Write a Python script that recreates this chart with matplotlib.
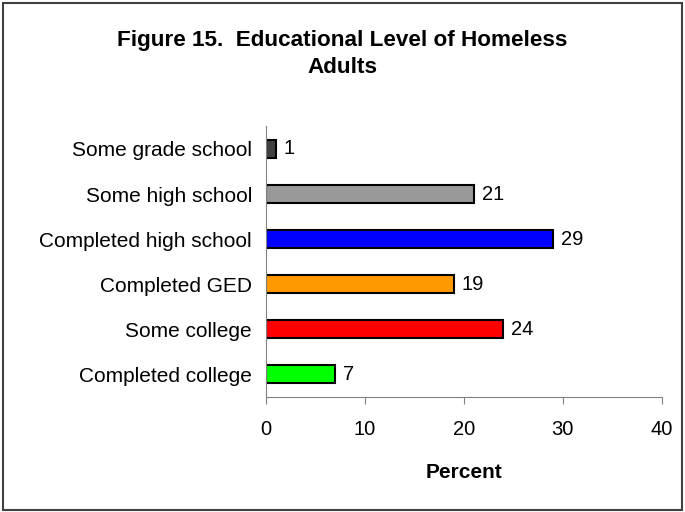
import matplotlib.pyplot as plt
from matplotlib.patches import Rectangle

plt.rcParams['font.family'] = ['Liberation Sans', 'DejaVu Sans']

# Education levels, top to bottom
categories = ['Some grade school', 'Some high school', 'Completed high school',
              'Completed GED', 'Some college', 'Completed college']
percent = [1, 21, 29, 19, 24, 7]
colors = ['#404040', '#999999', '#0000FF', '#FF9900', '#FF0000', '#00FF00']
xticks = [0, 10, 20, 30, 40]

fig = plt.figure(figsize=(6.85, 5.12), dpi=100)
ax = fig.add_axes([0.388, 0.225, 0.578, 0.528])

pos = list(range(len(categories)))
ax.barh(pos, percent, height=0.4, color=colors, edgecolor='black', linewidth=1.5)
for y, v in zip(pos, percent):
    ax.text(v + 0.8, y, str(v), va='center', ha='left', fontsize=14.5)

ax.set_ylim(len(categories) - 0.5, -0.5)
ax.set_xlim(0, 40)
ax.set_xticks(xticks)
ax.set_yticks(pos)
ax.set_yticklabels(categories, fontsize=15)
ax.tick_params(axis='x', labelsize=14.5, direction='out', length=5, color='#808080', pad=12)
ax.tick_params(axis='y', length=0, pad=10)
for s in ['top', 'right']:
    ax.spines[s].set_visible(False)
for s in ['left', 'bottom']:
    ax.spines[s].set_color('#808080')
ax.set_xlabel('Percent', fontsize=15, fontweight='bold', labelpad=17)

fig.text(0.5, 0.911, 'Figure 15.  Educational Level of Homeless',
         ha='center', va='baseline', fontsize=16.2, fontweight='bold')
fig.text(0.5, 0.857, 'Adults',
         ha='center', va='baseline', fontsize=16.2, fontweight='bold')

# figure border
fig.patches.append(Rectangle((0.004, 0.004), 0.992, 0.99, transform=fig.transFigure,
                             fill=False, edgecolor='#404040', linewidth=1.5))

fig.savefig('out.png', dpi=100)
